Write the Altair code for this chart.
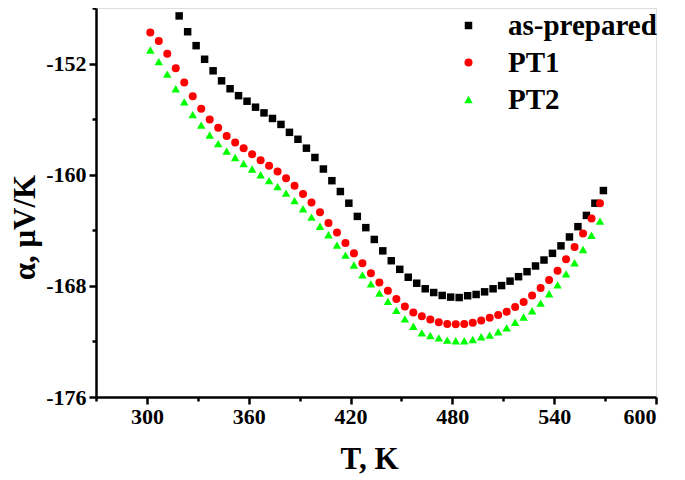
import altair as alt
import pandas as pd

# Temperatures (K)
T_asprep = [319 + 5 * k for k in range(51)]
T_pt = [302 + 5 * k for k in range(54)]

alpha_asprep = [
    -148.57, -149.71, -150.71, -151.69, -152.52, -153.24, -153.81, -154.31, -154.71, -155.14,
    -155.55, -155.95, -156.38, -156.95, -157.45, -158.09, -158.76, -159.59, -160.43, -161.21,
    -162.05, -163.00, -163.81, -164.66, -165.48, -166.19, -166.81, -167.38, -167.81, -168.21,
    -168.48, -168.69, -168.81, -168.84, -168.71, -168.62, -168.43, -168.21, -167.98, -167.66,
    -167.34, -166.98, -166.57, -166.14, -165.66, -165.12, -164.48, -163.74, -162.93, -162.05,
    -161.14,
]
alpha_pt1 = [
    -149.76, -150.38, -151.29, -152.34, -153.36, -154.36, -155.26, -156.02, -156.62, -157.21,
    -157.69, -158.09, -158.52, -158.95, -159.36, -159.76, -160.26, -160.79, -161.38, -162.00,
    -162.71, -163.48, -164.16, -164.91, -165.66, -166.38, -167.09, -167.76, -168.36, -168.95,
    -169.48, -169.91, -170.19, -170.43, -170.62, -170.74, -170.76, -170.74, -170.66, -170.50,
    -170.30, -170.10, -169.86, -169.52, -169.16, -168.69, -168.16, -167.57, -166.91, -166.09,
    -165.21, -164.24, -163.16, -162.05,
]
alpha_pt2 = [
    -151.02, -151.86, -152.76, -153.81, -154.76, -155.67, -156.43, -157.14, -157.76, -158.29,
    -158.76, -159.19, -159.59, -160.00, -160.43, -160.86, -161.33, -161.86, -162.45, -163.05,
    -163.71, -164.32, -165.07, -165.79, -166.50, -167.21, -167.86, -168.52, -169.12, -169.76,
    -170.38, -170.91, -171.38, -171.57, -171.74, -171.91, -171.95, -171.95, -171.86, -171.66,
    -171.55, -171.30, -171.02, -170.62, -170.24, -169.79, -169.24, -168.57, -167.93, -167.14,
    -166.34, -165.38, -164.36, -163.34,
]

series_names = ["as-prepared", "PT1", "PT2"]
series_colors = ["#000000", "#ff0000", "#00ff00"]
series_shapes = ["square", "circle", "triangle-up"]
series_sizes = [56, 72, 95]

x_major = [300, 360, 420, 480, 540, 600]
x_minor = [270, 330, 390, 450, 510, 570]
y_major = [-176, -168, -160, -152]
y_minor = [-172, -164, -156, -148]

rows = []
for t, a in zip(T_asprep, alpha_asprep):
    rows.append({"T": t, "alpha": a, "series": "as-prepared"})
for t, a in zip(T_pt, alpha_pt1):
    rows.append({"T": t, "alpha": a, "series": "PT1"})
for t, a in zip(T_pt, alpha_pt2):
    rows.append({"T": t, "alpha": a, "series": "PT2"})
df = pd.DataFrame(rows)

FONT = "Liberation Serif"
xscale = alt.Scale(domain=[270, 600], nice=False, zero=False)
yscale = alt.Scale(domain=[-176, -148], nice=False, zero=False)

common_axis = dict(
    grid=False, domainColor="black", domainWidth=2.5, tickColor="black", tickWidth=2.5,
    labelFont=FONT, labelFontWeight="bold", labelColor="black", labelFontSize=22,
    titleFont=FONT, titleFontWeight="bold", titleColor="black",
    labelExpr="'' + datum.value",
)

legend_opts = dict(title=None, orient="none", legendX=358, legendY=3,
                   labelFont=FONT, labelFontWeight="bold", labelFontSize=29,
                   labelColor="black", labelOffset=25, rowPadding=7,
                   symbolSize=45, symbolStrokeWidth=0)

points = alt.Chart(df).mark_point(filled=True, opacity=1).encode(
    x=alt.X("T:Q", scale=xscale, axis=alt.Axis(
        values=x_major, tickSize=7, labelPadding=2, orient="bottom",
        title="T, K", titleFontSize=31, titleX=273, titleY=71,
        titleAlign="center", titleBaseline="alphabetic", **common_axis)),
    y=alt.Y("alpha:Q", scale=yscale, axis=alt.Axis(
        values=y_major, tickSize=7, labelPadding=3, orient="left",
        title="α, μV/K", titleFontSize=31, titleAngle=270, titleX=-71, titleY=219,
        titleAlign="center", titleBaseline="middle", **common_axis)),
    color=alt.Color("series:N", scale=alt.Scale(domain=series_names, range=series_colors),
                    legend=alt.Legend(**legend_opts)),
    shape=alt.Shape("series:N", scale=alt.Scale(domain=series_names, range=series_shapes),
                    legend=alt.Legend(**legend_opts)),
    size=alt.Size("series:N", scale=alt.Scale(domain=series_names, range=series_sizes),
                  legend=None),
)

minor = alt.Chart(df).mark_point(opacity=0).encode(
    x=alt.X("T:Q", scale=xscale, axis=alt.Axis(
        values=x_minor, tickSize=4, labels=False, domain=False, orient="bottom", title="",
        grid=False, tickColor="black", tickWidth=2.5)),
    y=alt.Y("alpha:Q", scale=yscale, axis=alt.Axis(
        values=y_minor, tickSize=4, labels=False, domain=False, orient="left", title="",
        grid=False, tickColor="black", tickWidth=2.5)),
)

chart = alt.layer(points, minor).resolve_axis(x="independent", y="independent").properties(
    width=560, height=389,
    autosize=alt.AutoSizeParams(type="none"),
    padding={"left": 88, "top": 0, "right": 21, "bottom": 82},
).configure_view(stroke=None).configure(background="white")

chart.save("out.html", embed_options={"renderer": "svg", "actions": False})
